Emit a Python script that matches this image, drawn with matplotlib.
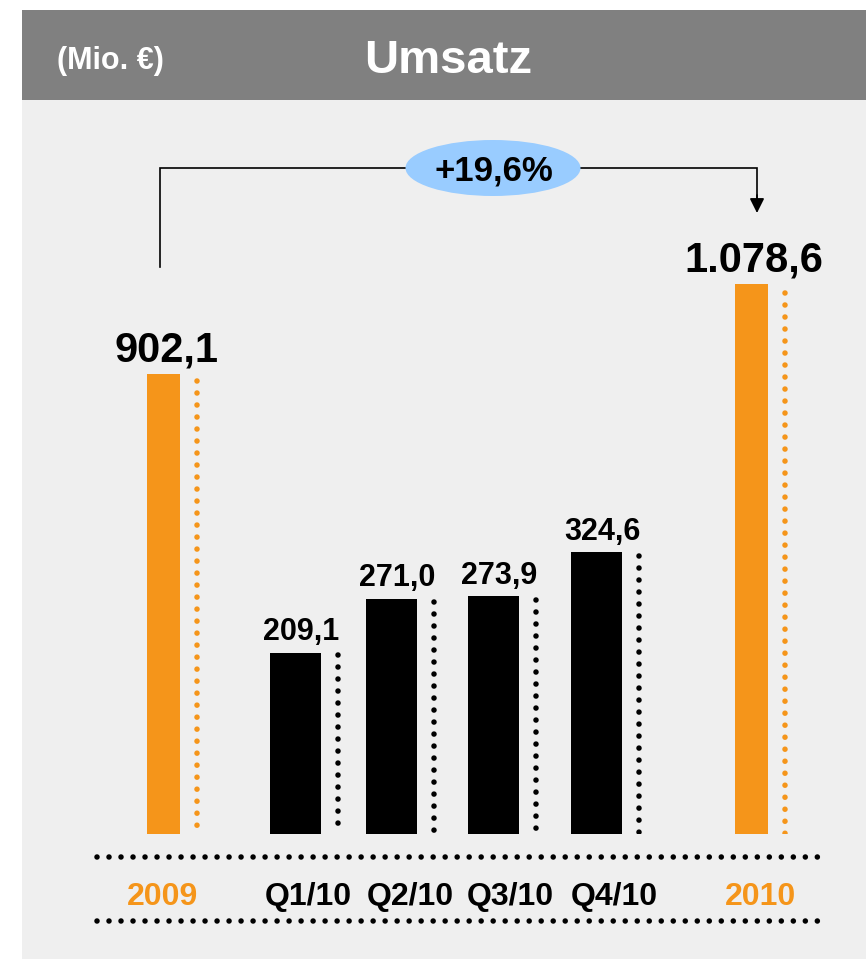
import matplotlib
matplotlib.use("Agg")
import matplotlib.pyplot as plt
from matplotlib.patches import Rectangle, Ellipse

# ---- data ----
categories = ["2009", "Q1/10", "Q2/10", "Q3/10", "Q4/10", "2010"]
revenue = [902.1, 209.1, 271.0, 273.9, 324.6, 1078.6]
value_labels = ["902,1", "209,1", "271,0", "273,9", "324,6", "1.078,6"]
is_annual = [True, False, False, False, False, True]
growth_label = "+19,6%"
unit_label = "(Mio. €)"
title = "Umsatz"

# ---- style / layout ----
plt.rcParams["font.family"] = ["Liberation Sans", "DejaVu Sans"]
plt.rcParams["font.weight"] = "bold"
ORANGE = "#f5951a"
BG = "#efefef"
HEADER = "#808080"
W, H = 866, 959
SLOT_X = [163.5, 295.5, 391.5, 493.5, 596.5, 751.5]
LABEL_X = [162, 308, 410, 510, 614, 760]
BASE_PX, TOP_PX = 834, 100
ANNUAL_PX_PER_UNIT = 0.5095
QUARTER_PX_PER_UNIT = 0.868
DOT_LW = 4.0
DOT_STYLE = (0, (0.001, 8.64 / DOT_LW))

fig = plt.figure(figsize=(W / 100, H / 100), dpi=100)
fig.patch.set_facecolor("white")

# overlay axes in pixel coordinates
bg = fig.add_axes([0, 0, 1, 1], zorder=0)
bg.set_xlim(0, W)
bg.set_ylim(H, 0)
bg.axis("off")
bg.add_patch(Rectangle((22, 100), W - 22, H - 100, color=BG, lw=0))
bg.add_patch(Rectangle((22, 10), W - 22, 90, color=HEADER, lw=0))
bg.text(110, 69, unit_label, color="white", fontsize=22, fontweight="bold",
        ha="center", va="baseline")
bg.text(448, 73, title, color="white", fontsize=34, fontweight="bold",
        ha="center", va="baseline")

# growth connector
bg.plot([160, 160, 757, 757], [267, 168, 168, 198], color="black", lw=1.2,
        solid_joinstyle="miter", zorder=2)
bg.annotate("", xy=(757, 213), xytext=(757, 195),
            arrowprops=dict(arrowstyle="-|>", mutation_scale=22, color="black",
                            lw=1.2, shrinkA=0, shrinkB=0), zorder=2)
bg.add_patch(Ellipse((493, 168), 175, 56, color="#99ccff", lw=0, zorder=3))
bg.text(494, 181, growth_label, fontsize=25, fontweight="bold",
        ha="center", va="baseline", zorder=4)

# horizontal dotted rules
for yy in (857, 921):
    bg.plot([97, 822], [yy, yy], color="black", lw=DOT_LW,
            linestyle=DOT_STYLE, dash_capstyle="round", zorder=2)

# category labels
for lx, cat, ann in zip(LABEL_X, categories, is_annual):
    bg.text(lx, 905, cat, fontsize=23, fontweight="bold",
            color=ORANGE if ann else "black", ha="center", va="baseline")

# bar axes (two scales: annual and quarterly)
pos = [0, (H - BASE_PX) / H, 1, (BASE_PX - TOP_PX) / H]
span_px = BASE_PX - TOP_PX
ax_a = fig.add_axes(pos, zorder=5)
ax_q = fig.add_axes(pos, zorder=6)
ax_a.set_ylim(0, span_px / ANNUAL_PX_PER_UNIT)
ax_q.set_ylim(0, span_px / QUARTER_PX_PER_UNIT)
for ax in (ax_a, ax_q):
    ax.set_xlim(0, W)
    ax.patch.set_alpha(0)
    ax.axis("off")

for x, v, lab, ann in zip(SLOT_X, revenue, value_labels, is_annual):
    ax = ax_a if ann else ax_q
    width = 33 if ann else 51
    color = ORANGE if ann else "black"
    ax.bar(x, v, width=width, color=color, linewidth=0)
    dot_x = x + width / 2 + 17
    ax.plot([dot_x, dot_x], [v * 0.985, 0], color=color, lw=DOT_LW,
            linestyle=DOT_STYLE, dash_capstyle="round")
    ax.annotate(lab, xy=(x, v), xytext=(4 if not ann else 2, 9),
                textcoords="offset points", ha="center", va="baseline",
                fontsize=30 if ann else 22, fontweight="bold", color="black")

fig.savefig("out.png", dpi=100, facecolor=fig.get_facecolor())
